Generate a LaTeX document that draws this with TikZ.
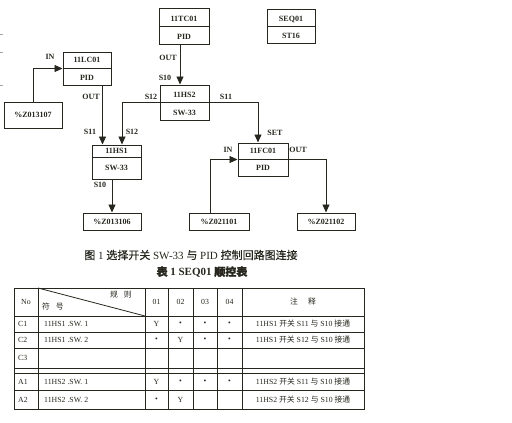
\documentclass[tikz,border=0pt]{standalone}
\usepackage{fontspec}
\setmainfont{Liberation Serif}
\newfontfamily\cjk{Noto Sans CJK SC}
\newfontfamily\cjkm[FakeBold=0.6]{Noto Sans CJK SC}
\newfontfamily\cjkb[FakeBold=1.2]{Noto Sans CJK SC}
\usetikzlibrary{arrows.meta,calc}
\definecolor{ink}{RGB}{38,38,30}
\begin{document}
\begin{tikzpicture}[x=1pt,y=-1pt,
  box/.style={draw=ink,line width=1pt,inner sep=0pt,rectangle},
  lbl/.style={inner sep=0pt,text=ink,font=\fontsize{8}{9}\selectfont\bfseries},
  tlbl/.style={inner sep=0pt,text=ink,font=\fontsize{7.8}{9}\selectfont},
  arr/.style={draw=ink,line width=0.9pt,-{Triangle[length=8pt,width=7pt]}},
  divline/.style={draw=ink,line width=0.8pt},
  grid/.style={draw=ink,line width=0.8pt},
  tick/.style={draw=gray!70,line width=0.6pt}]
\useasboundingbox (0,0) rectangle (512,423);
% left edge marks
\draw[tick] (0,34) -- (3,34);
\draw[tick] (0,52) -- (3,52);
\draw[tick] (0,85) -- (3,85);
% boxes
\node[box,minimum width=50pt,minimum height=36pt] (tc) at (184,26) {};
\draw[divline] (tc.west) -- (tc.east);
\node[lbl] (tct) at (184,19) {11TC01};
\node[lbl] (tcb) at (184,37) {PID};
\node[box,minimum width=48pt,minimum height=34pt] (seq) at (291,26) {};
\draw[divline] (seq.west) -- (seq.east);
\node[lbl] (seqt) at (291,19) {SEQ01};
\node[lbl] (seqb) at (291,36) {ST16};
\node[box,minimum width=48pt,minimum height=33pt] (lc) at (87,68.5) {};
\draw[divline] (lc.west) -- (lc.east);
\node[lbl] (lct) at (87,60) {11LC01};
\node[lbl] (lcb) at (87,78) {PID};
\node[box,minimum width=58pt,minimum height=26pt] (z7) at (33,115) {};
\node[lbl] (z7t) at (33,115) {\%Z013107};
\node[box,minimum width=49pt,minimum height=35pt] (hs2) at (184.5,102.5) {};
\draw[divline] (hs2.west) -- (hs2.east);
\node[lbl] (hs2t) at (184.5,95) {11HS2};
\node[lbl] (hs2b) at (184.5,113) {SW-33};
\node[box,minimum width=49pt,minimum height=34pt] (hs1) at (116.5,162) {};
\draw[divline] (hs1.west |- {(0,157)}) -- (hs1.east |- {(0,157)});
\node[lbl] (hs1t) at (116.5,151) {11HS1};
\node[lbl] (hs1b) at (116.5,168) {SW-33};
\node[box,minimum width=58pt,minimum height=17pt] (z6) at (112,221.5) {};
\node[lbl] (z6t) at (112,221.5) {\%Z013106};
\node[box,minimum width=50pt,minimum height=33pt] (fc) at (263,159.5) {};
\draw[divline] (fc.west) -- (fc.east);
\node[lbl] (fct) at (263,151) {11FC01};
\node[lbl] (fcb) at (263,168) {PID};
\node[box,minimum width=60pt,minimum height=17pt] (z1) at (219,221.5) {};
\node[lbl] (z1t) at (219,221.5) {\%Z021101};
\node[box,minimum width=58pt,minimum height=17pt] (z2) at (326,221.5) {};
\node[lbl] (z2t) at (326,221.5) {\%Z021102};
% connectors
\draw[arr] ([xshift=-4pt]tc.south) -- ([xshift=-4pt]tc.south |- hs2.north);
\draw[arr] (z7.north) |- (lc.west);
\draw[arr] ([xshift=-9pt]lc.south east) -- ([xshift=-9pt]lc.south east |- hs1.north);
\draw[arr] (hs2.west) -| ([xshift=5.5pt]hs1.north);
\draw[arr] (hs2.east) -| ([xshift=-5pt]fc.north);
\draw[arr] (z6.north |- hs1.south) -- (z6.north);
\draw[arr] ([xshift=-9pt]z1.north) |- (fc.west);
\draw[arr] (fc.east) -| (z2.north);
% connector labels
\node[lbl] (l1) at (168,58) {OUT};
\node[lbl] (l2) at (165,78) {S10};
\node[lbl] (l3) at (50,57) {IN};
\node[lbl] (l4) at (91,97) {OUT};
\node[lbl] (l5) at (90,132) {S11};
\node[lbl] (l6) at (132,132) {S12};
\node[lbl] (l7) at (151,97) {S12};
\node[lbl] (l8) at (226,97) {S11};
\node[lbl] (l9) at (275,133) {SET};
\node[lbl] (l10) at (228,150) {IN};
\node[lbl] (l11) at (298,150) {OUT};
\node[lbl] (l12) at (100,185) {S10};
% captions
\node[inner sep=0pt,text=ink,font=\fontsize{11}{12}\selectfont] (cap1) at (191,255)
  {{\cjkm 图} 1 {\cjkm 选择开关} SW-33 {\cjkm 与} PID {\cjkm 控制回路图连接}};
\node[inner sep=0pt,text=ink,font=\fontsize{11}{12}\selectfont\bfseries] (cap2) at (202,272)
  {{\cjkb 表} 1 SEQ01 {\cjkb 顺控表}};
% table
\draw[grid] (14,288) rectangle (364,409);
\foreach \yy in {316,332,348,368,373,390} \draw[grid] (14,\yy) -- (364,\yy);
\foreach \xx in {38,145,168,193,217,242} \draw[grid] (\xx,288) -- (\xx,409);
\draw[grid] (38,288) -- (145,316);
\node[tlbl] (hno) at (26,302) {No};
\node[tlbl] (hgz) at (121,295) {\cjk 规\hspace{6pt}则};
\node[tlbl] (hfh) at (53,307) {\cjk 符\hspace{6pt}号};
\node[tlbl] (h1) at (156.5,302) {01};
\node[tlbl] (h2) at (180.5,302) {02};
\node[tlbl] (h3) at (205,302) {03};
\node[tlbl] (h4) at (229.5,302) {04};
\node[tlbl] (hzs) at (303,302) {\cjk 注\hspace{10pt}释};
% rows
\node[tlbl,anchor=west] (r1a) at (18,324) {C1};
\node[tlbl,anchor=west] (r1b) at (44,324) {11HS1 .SW. 1};
\node[tlbl] (r1c) at (156.5,324) {Y};
\node[tlbl] (r1d) at (180.5,324) {\textbullet};
\node[tlbl] (r1e) at (205,324) {\textbullet};
\node[tlbl] (r1f) at (229.5,324) {\textbullet};
\node[tlbl] (r1g) at (303,324) {11HS1 {\cjk 开关} S11 {\cjk 与} S10 {\cjk 接通}};
\node[tlbl,anchor=west] (r2a) at (18,340) {C2};
\node[tlbl,anchor=west] (r2b) at (44,340) {11HS1 .SW. 2};
\node[tlbl] (r2c) at (156.5,340) {\textbullet};
\node[tlbl] (r2d) at (180.5,340) {Y};
\node[tlbl] (r2e) at (205,340) {\textbullet};
\node[tlbl] (r2f) at (229.5,340) {\textbullet};
\node[tlbl] (r2g) at (303,340) {11HS1 {\cjk 开关} S12 {\cjk 与} S10 {\cjk 接通}};
\node[tlbl,anchor=west] (r3a) at (18,358) {C3};
\node[tlbl,anchor=west] (r4a) at (18,381.5) {A1};
\node[tlbl,anchor=west] (r4b) at (44,381.5) {11HS2 .SW. 1};
\node[tlbl] (r4c) at (156.5,381.5) {Y};
\node[tlbl] (r4d) at (180.5,381.5) {\textbullet};
\node[tlbl] (r4e) at (205,381.5) {\textbullet};
\node[tlbl] (r4f) at (229.5,381.5) {\textbullet};
\node[tlbl] (r4g) at (303,381.5) {11HS2 {\cjk 开关} S11 {\cjk 与} S10 {\cjk 接通}};
\node[tlbl,anchor=west] (r5a) at (18,399.5) {A2};
\node[tlbl,anchor=west] (r5b) at (44,399.5) {11HS2 .SW. 2};
\node[tlbl] (r5c) at (156.5,399.5) {\textbullet};
\node[tlbl] (r5d) at (180.5,399.5) {Y};
\node[tlbl] (r5g) at (303,399.5) {11HS2 {\cjk 开关} S12 {\cjk 与} S10 {\cjk 接通}};
\end{tikzpicture}
\end{document}
